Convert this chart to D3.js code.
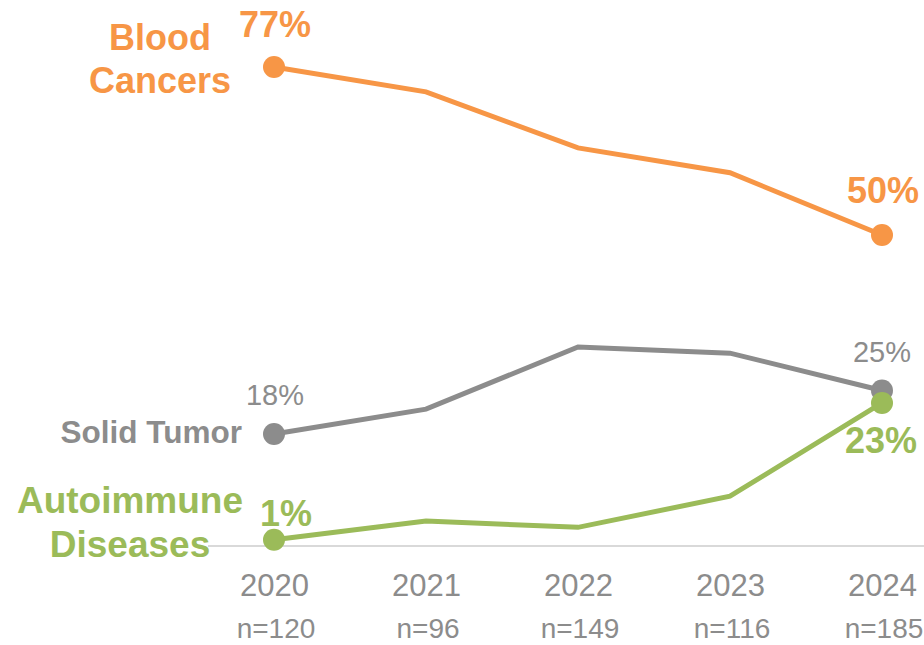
<!DOCTYPE html>
<html>
<head>
<meta charset="utf-8">
<script src="https://cdn.jsdelivr.net/npm/d3@7"></script>
<style>
  body { margin: 0; background: #fff; }
  svg { font-family: "Liberation Sans", Arial, sans-serif; display: block; }
</style>
</head>
<body>
<svg width="924" height="645"></svg>
<script>
const years = ['2020', '2021', '2022', '2023', '2024'];
const sampleSizes = ['n=120', 'n=96', 'n=149', 'n=116', 'n=185'];
const bloodCancers = [77, 73, 64, 60, 50];
const solidTumor = [18, 22, 32, 31, 25];
const autoimmune = [1, 4, 3, 8, 23];

const svg = d3.select('svg');
const width = +svg.attr('width');

const orange = '#F79646';
const grey = '#8C8C8C';
const green = '#9BBB59';

const xScale = d3.scalePoint().domain(years).range([274, 882]);
const yScale = d3.scaleLinear().domain([0, 77]).range([546, 67]);

// zero line
svg.append('line')
   .attr('x1', 208).attr('x2', width)
   .attr('y1', yScale(0)).attr('y2', yScale(0))
   .attr('stroke', '#d9d9d9').attr('stroke-width', 2);

// year axis
const xAxis = d3.axisBottom(xScale).tickSize(0).tickPadding(0);
const axisG = svg.append('g').attr('transform', `translate(0, ${yScale(0)})`).call(xAxis);
axisG.select('.domain').remove();
axisG.selectAll('text')
     .attr('y', 50).attr('dy', null)
     .attr('font-size', 31).attr('font-family', '"Liberation Sans", Arial, sans-serif')
     .attr('fill', grey);

// n= labels under the years
svg.append('g').selectAll('text').data(years)
   .enter().append('text')
     .attr('x', d => xScale(d) + 2)
     .attr('y', 638)
     .attr('text-anchor', 'middle')
     .attr('font-size', 28)
     .attr('fill', grey)
     .text((d, i) => sampleSizes[i]);

const line = d3.line()
               .x((d, i) => xScale(years[i]))
               .y(d => yScale(d));

const series = [
  { values: solidTumor, color: grey },
  { values: autoimmune, color: green },
  { values: bloodCancers, color: orange }
];

series.forEach(s => {
  svg.append('path')
     .datum(s.values)
     .attr('d', line)
     .attr('fill', 'none')
     .attr('stroke', s.color)
     .attr('stroke-width', 5);
  // dots only at first and last year
  svg.append('g').selectAll('circle').data([0, years.length - 1])
     .enter().append('circle')
       .attr('cx', i => xScale(years[i]))
       .attr('cy', i => yScale(s.values[i]))
       .attr('r', 11)
       .attr('fill', s.color);
});

// text helper: offsets relative to a data point
const label = (yearIdx, value, dx, dy, txt, color, size, weight, anchor) => {
  svg.append('text')
     .attr('x', xScale(years[yearIdx]) + dx)
     .attr('y', yScale(value) + dy)
     .attr('text-anchor', anchor || 'middle')
     .attr('font-size', size)
     .attr('font-weight', weight)
     .attr('fill', color)
     .text(txt);
};

const last = years.length - 1;

// Blood cancers
label(0, bloodCancers[0], -114, -17, 'Blood', orange, 36, 'bold');
label(0, bloodCancers[0], -114, 26, 'Cancers', orange, 36, 'bold');
label(0, bloodCancers[0], 1, -30, bloodCancers[0] + '%', orange, 36, 'bold');
label(last, bloodCancers[last], 1, -32, bloodCancers[last] + '%', orange, 36, 'bold');

// Solid tumor
label(0, solidTumor[0], -32, 9, 'Solid Tumor', grey, 31.5, 'bold', 'end');
label(0, solidTumor[0], 1, -29, solidTumor[0] + '%', grey, 29, 'normal');
label(last, solidTumor[last], 0, -28, solidTumor[last] + '%', grey, 29, 'normal');

// Autoimmune diseases
label(0, autoimmune[0], -144, -27, 'Autoimmune', green, 37, 'bold');
label(0, autoimmune[0], -144, 17, 'Diseases', green, 37, 'bold');
label(0, autoimmune[0], 12, -14, autoimmune[0] + '%', green, 36, 'bold');
label(last, autoimmune[last], -1, 50, autoimmune[last] + '%', green, 36, 'bold');
</script>
</body>
</html>
